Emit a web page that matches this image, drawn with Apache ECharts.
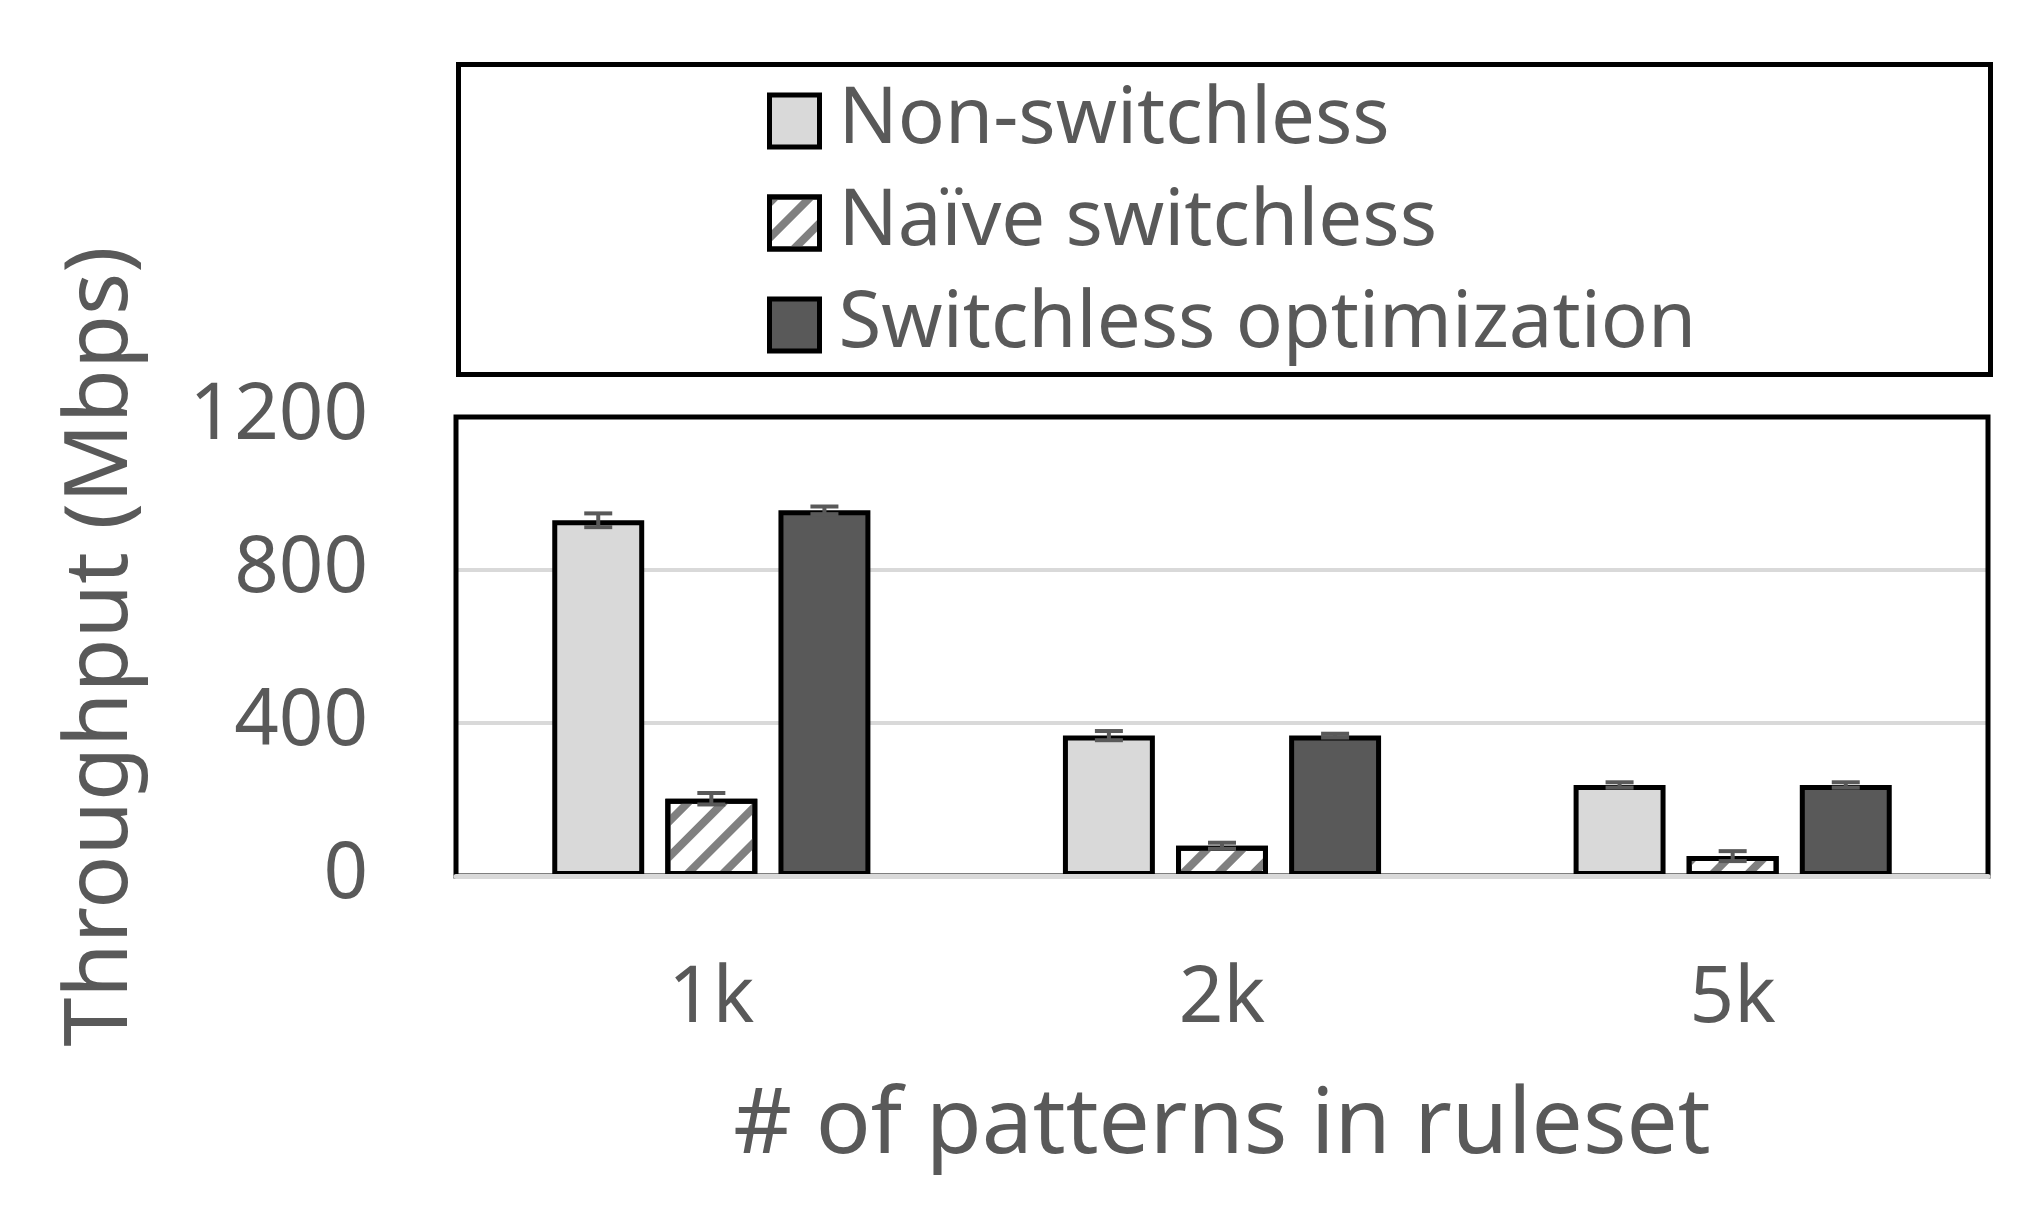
<!DOCTYPE html>
<html><head><meta charset="utf-8">
<script src="https://cdn.jsdelivr.net/npm/echarts@6/dist/echarts.min.js"></script>
<style>html,body{margin:0;padding:0;background:#fff;}#c{width:2033px;height:1214px;}</style>
</head><body><div id="c"></div>
<script>
const categories = ['1k', '2k', '5k'];
const seriesNames = ['Non-switchless', 'Naïve switchless', 'Switchless optimization'];
const nonSwitchless = [930, 367, 238];
const naiveSwitchless = [202, 79, 52];
const switchlessOpt = [956, 367, 238];
const nonSwitchlessErr = [18, 12, 7];
const naiveSwitchlessErr = [15, 8, 13];
const switchlessOptErr = [10, 5, 7];
const yTicks = [0, 400, 800, 1200];

const FONT = 'Noto Sans';
const TXT = '#595959';
const CAT_GAP = 0.377, BAR_GAP = 0.23;
const values = [nonSwitchless, naiveSwitchless, switchlessOpt];
const errs = [nonSwitchlessErr, naiveSwitchlessErr, switchlessOptErr];
const fills = ['#d9d9d9', '#ffffff', '#595959'];

const series = values.map((vals, i) => ({
  name: seriesNames[i],
  type: 'bar',
  data: vals,
  barGap: (BAR_GAP * 100) + '%',
  barCategoryGap: (CAT_GAP * 100) + '%',
  z: 2,
  itemStyle: Object.assign({color: fills[i], borderColor: '#000', borderWidth: 5},
    i === 1 ? {decal: {symbol: 'rect', symbolSize: 1, color: '#808080', dashArrayX: [1, 0], dashArrayY: [8, 17], rotation: -Math.PI / 4}} : {})
}));

values.forEach((vals, i) => {
  series.push({
    type: 'custom',
    z: 3,
    silent: true,
    data: vals.map((v, k) => [k, v, errs[i][k]]),
    encode: {x: 0, y: 1},
    renderItem: function (params, api) {
      const k = api.value(0), v = api.value(1), e = api.value(2);
      const band = api.size([1, 0])[0];
      const n = 3;
      const bw = band * (1 - CAT_GAP) / (n + (n - 1) * BAR_GAP);
      const off = (i - (n - 1) / 2) * bw * (1 + BAR_GAP);
      const t = api.coord([k, v + e]);
      const b = api.coord([k, v - e]);
      const x = t[0] + off;
      const cw = 14;
      const st = {stroke: '#595959', lineWidth: 4};
      return {type: 'group', children: [
        {type: 'line', shape: {x1: x, y1: t[1], x2: x, y2: b[1]}, style: st},
        {type: 'line', shape: {x1: x - cw, y1: t[1], x2: x + cw, y2: t[1]}, style: st},
        {type: 'line', shape: {x1: x - cw, y1: b[1], x2: x + cw, y2: b[1]}, style: st}
      ]};
    }
  });
});

const chart = echarts.init(document.getElementById('c'), null, {renderer: 'canvas'});
chart.setOption({
  animation: false,
  backgroundColor: '#fff',
  textStyle: {fontFamily: FONT},
  grid: {left: 456, right: 45, top: 417, bottom: 338, show: true, borderColor: '#000', borderWidth: 5, z: 3},
  graphic: [{type: 'rect', left: 456, top: 62, shape: {width: 1532, height: 310}, style: {fill: 'none', stroke: '#000', lineWidth: 5}}],
  legend: {
    orient: 'vertical', left: 762, top: 77,
    itemWidth: 50, itemHeight: 52, itemGap: 24,
    icon: 'rect',
    data: seriesNames,
    itemStyle: {borderColor: '#000', borderWidth: 5},
    textStyle: {fontFamily: FONT, fontSize: 78, color: TXT, padding: [0, 0, 0, 14]}
  },
  xAxis: {
    type: 'category', data: categories, z: 5,
    axisLine: {lineStyle: {color: '#d9d9d9', width: 5}},
    axisTick: {show: false},
    axisLabel: {fontFamily: FONT, fontSize: 78, color: TXT, margin: 85},
    name: '# of patterns in ruleset', nameLocation: 'middle', nameGap: 206,
    nameTextStyle: {fontFamily: FONT, fontSize: 91, color: TXT}
  },
  yAxis: {
    type: 'value', min: 0, max: 1200, interval: 400, z: 0,
    axisLine: {show: false}, axisTick: {show: false},
    splitLine: {lineStyle: {color: '#d9d9d9', width: 4}},
    axisLabel: {fontFamily: FONT, fontSize: 78, color: TXT, margin: 88,
      formatter: v => yTicks.includes(v) ? String(v) : ''},
    name: 'Throughput (Mbps)', nameLocation: 'middle', nameGap: 310,
    nameTextStyle: {fontFamily: FONT, fontSize: 88, color: TXT}
  },
  series: series
});
</script></body></html>
